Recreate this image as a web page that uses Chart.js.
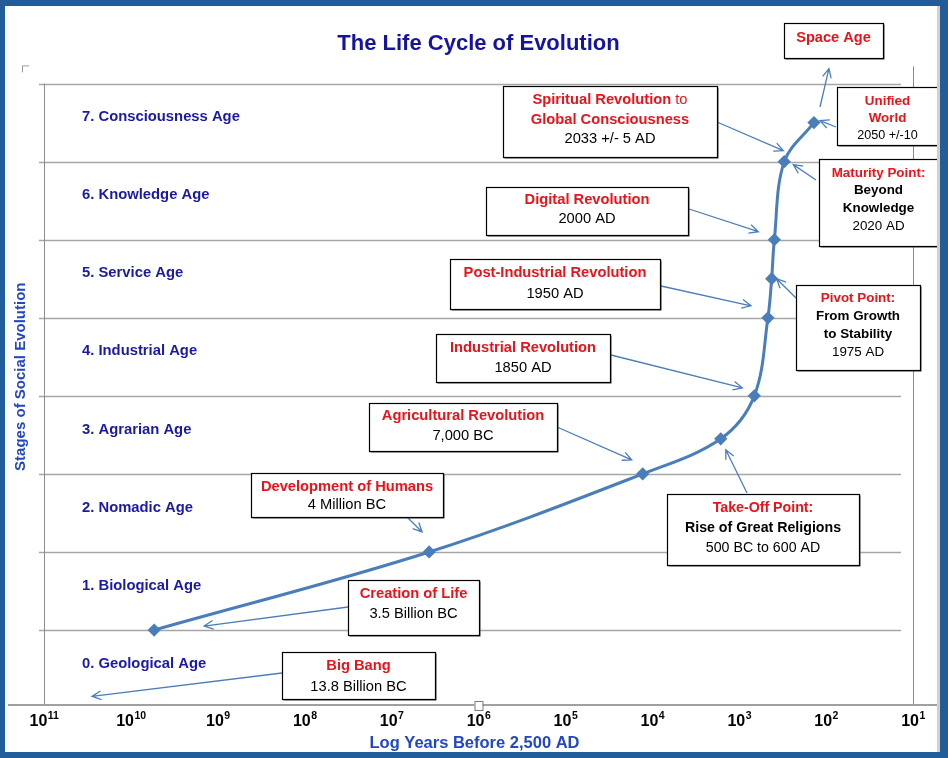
<!DOCTYPE html>
<html>
<head>
<meta charset="utf-8">
<title>The Life Cycle of Evolution</title>
<script src="https://cdn.jsdelivr.net/npm/chart.js@4.4.0/dist/chart.umd.min.js"></script>
<style>
  html, body { margin: 0; padding: 0; background: #fff; }
  #wrap { position: relative; width: 948px; height: 758px; overflow: hidden; }
  #frame {
    position: absolute; left: 0; top: 0; width: 948px; height: 758px;
    box-sizing: border-box; border-style: solid; border-color: #215d9b;
    border-width: 6px 8px 6px 5px; box-shadow: inset -3px 0 0 #d0d0d0;
    pointer-events: none;
  }
</style>
</head>
<body>
<div id="wrap">
  <canvas id="evolutionChart" width="948" height="758"></canvas>
  <div id="frame"></div>
</div>
<script>
// stages of social evolution (bands between grid lines)
const stageNames = [
  '0. Geological Age', '1. Biological Age', '2. Nomadic Age', '3. Agrarian Age',
  '4. Industrial Age', '5. Service Age', '6. Knowledge Age', '7. Consciousness Age'
];
const gridStages = [1, 2, 3, 4, 5, 6, 7, 8];

// curve points: years before 2,500 AD (log axis) and stage level
const yearsBefore2500 = [5.4e9, 3.7e6, 1.29e4, 1630, 670, 467, 423, 394, 303, 138];
const stageLevel = [1, 2, 3, 3.45, 4, 5, 5.5, 6, 7, 7.5];

// x axis ticks: base and exponent (drawn as 10 with a raised exponent)
const tickExponents = [11, 10, 9, 8, 7, 6, 5, 4, 3, 2, 1];
const tickBase = '10';

const xTitle = 'Log Years Before 2,500 AD';
const yTitle = 'Stages of Social Evolution';

const LINE_BLUE = '#4a7ebb';
const RED = '#e8141c';
const AXIS_BLUE = '#2346c4';
const FONT = '"Liberation Sans", Arial, sans-serif';

const STYLE = {
  r:  { color: RED, weight: 'bold' },
  rn: { color: RED, weight: 'normal' },
  kb: { color: '#000', weight: 'bold' },
  k:  { color: '#000', weight: 'normal' }
};

// text boxes with arrows (arrow tip given relative to a curve point)
const notes = [
  { box: [784, 23, 99, 35], y0: 38, lead: 18, size: 14.6,
    lines: [[['Space Age', 'r']]],
    arrow: { from: [820, 107], at: 9, dx: 15, dy: -54 } },
  { box: [503, 86, 214, 71], y0: 100, lead: 19.5, size: 14.7,
    lines: [[['Spiritual Revolution', 'r'], [' to', 'rn']], [['Global Consciousness', 'r']], [['2033 +/- 5 AD', 'k']]],
    arrow: { from: [717, 122], at: 8, dx: -1, dy: -11 } },
  { box: [837, 87, 101, 58], y0: 101, lead: 17.5, size: 13.4,
    lines: [[['Unified', 'r']], [['World', 'r']], [['2050 +/-10', 'k', 12.6]]],
    arrow: { from: [836, 127], at: 9, dx: 6, dy: -2 } },
  { box: [819, 159, 119, 87], y0: 173, lead: 17.7, size: 13.4,
    lines: [[['Maturity Point:', 'r']], [['Beyond', 'kb']], [['Knowledge', 'kb']], [['2020 AD', 'k']]],
    arrow: { from: [816, 180], at: 8, dx: 9, dy: 3 } },
  { box: [486, 187, 202, 48], y0: 200, lead: 19, size: 14.7,
    lines: [[['Digital Revolution', 'r']], [['2000 AD', 'k']]],
    arrow: { from: [689, 209], at: 7, dx: -16, dy: -8 } },
  { box: [450, 259, 210, 50], y0: 273, lead: 20.5, size: 14.7,
    lines: [[['Post-Industrial Revolution', 'r']], [['1950 AD', 'k']]],
    arrow: { from: [661, 286], at: 5, dx: -17, dy: -12 } },
  { box: [796, 285, 124, 85], y0: 298, lead: 18, size: 13.4,
    lines: [[['Pivot Point:', 'r']], [['From Growth', 'kb']], [['to Stability', 'kb']], [['1975 AD', 'k']]],
    arrow: { from: [796, 298], at: 6, dx: 5, dy: 0 } },
  { box: [436, 334, 174, 48], y0: 348, lead: 20, size: 14.7,
    lines: [[['Industrial Revolution', 'r']], [['1850 AD', 'k']]],
    arrow: { from: [611, 355], at: 4, dx: -12, dy: -8 } },
  { box: [369, 403, 188, 48], y0: 416, lead: 20, size: 14.7,
    lines: [[['Agricultural Revolution', 'r']], [['7,000 BC', 'k']]],
    arrow: { from: [557, 427], at: 2, dx: -11, dy: -14 } },
  { box: [667, 494, 192, 71], y0: 508, lead: 20, size: 14.2,
    lines: [[['Take-Off Point:', 'r']], [['Rise of Great Religions', 'kb']], [['500 BC to 600 AD', 'k']]],
    arrow: { from: [747, 493], at: 3, dx: 5, dy: 11 } },
  { box: [251, 473, 192, 44], y0: 487, lead: 17.5, size: 14.7,
    lines: [[['Development of Humans', 'r']], [['4 Million BC', 'k']]],
    arrow: { from: [407, 517], at: 1, dx: -7, dy: -20 } },
  { box: [348, 580, 131, 55], y0: 594, lead: 20, size: 14.7,
    lines: [[['Creation of Life', 'r']], [['3.5 Billion BC', 'k']]],
    arrow: { from: [348, 607], at: 0, dx: 50, dy: -4 } },
  { box: [282, 652, 153, 47], y0: 666, lead: 21, size: 14.7,
    lines: [[['Big Bang', 'r']], [['13.8 Billion BC', 'k']]],
    arrow: { from: [282, 673], value: [2.8e10, 0.15] } }
];

function font(weight, size) {
  return `${weight} ${size}px ${FONT}`;
}

function drawArrow(ctx, x1, y1, x2, y2) {
  const ang = Math.atan2(y2 - y1, x2 - x1);
  const len = 10, spread = 0.45;
  ctx.beginPath();
  ctx.moveTo(x1, y1);
  ctx.lineTo(x2, y2);
  ctx.moveTo(x2 - len * Math.cos(ang - spread), y2 - len * Math.sin(ang - spread));
  ctx.lineTo(x2, y2);
  ctx.lineTo(x2 - len * Math.cos(ang + spread), y2 - len * Math.sin(ang + spread));
  ctx.stroke();
}

const decor = {
  id: 'decor',
  beforeDatasetsDraw(chart) {
    const { ctx, chartArea: area, scales: { x, y } } = chart;
    ctx.save();
    // horizontal stage lines
    ctx.strokeStyle = '#a6a6a6';
    ctx.lineWidth = 1.5;
    gridStages.forEach(v => {
      const py = Math.round(y.getPixelForValue(v)) + 0.5;
      ctx.beginPath();
      ctx.moveTo(area.left - 5, py);
      ctx.lineTo(area.right - 12, py);
      ctx.stroke();
    });
    // left and right vertical lines
    ctx.lineWidth = 1;
    ctx.strokeStyle = '#8c8c8c';
    ctx.beginPath();
    ctx.moveTo(Math.round(area.left) + 0.5, y.getPixelForValue(8));
    ctx.lineTo(Math.round(area.left) + 0.5, area.bottom);
    ctx.moveTo(Math.round(area.right) + 0.5, area.top);
    ctx.lineTo(Math.round(area.right) + 0.5, area.bottom);
    ctx.stroke();
    // bottom axis line across the whole frame
    ctx.strokeStyle = '#a0a0a0';
    ctx.lineWidth = 2;
    ctx.beginPath();
    ctx.moveTo(8, area.bottom);
    ctx.lineTo(940, area.bottom);
    ctx.stroke();
    // stage names
    ctx.fillStyle = '#1a1aa6';
    ctx.font = font('bold', 14.8);
    ctx.textAlign = 'left';
    ctx.textBaseline = 'middle';
    stageNames.forEach((name, i) => {
      ctx.fillText(name, area.left + 38, y.getPixelForValue(i + 0.57));
    });
    // x tick labels: 10 with raised exponent
    ctx.fillStyle = '#000';
    tickExponents.forEach(e => {
      const px = x.getPixelForValue(Math.pow(10, e));
      const sup = String(e);
      ctx.font = font('bold', 16);
      const wb = ctx.measureText(tickBase).width;
      ctx.font = font('bold', 10.5);
      const ws = ctx.measureText(sup).width;
      const left = px - (wb + ws) / 2;
      ctx.font = font('bold', 16);
      ctx.fillText(tickBase, left, area.bottom + 17);
      ctx.font = font('bold', 10.5);
      ctx.fillText(sup, left + wb + 0.5, area.bottom + 11);
    });
    // axis titles
    ctx.fillStyle = AXIS_BLUE;
    ctx.textAlign = 'center';
    ctx.font = font('bold', 16.5);
    ctx.fillText(xTitle, (area.left + area.right) / 2 - 4, area.bottom + 38);
    ctx.save();
    ctx.translate(area.left - 23, (area.top + area.bottom) / 2 - 9);
    ctx.rotate(-Math.PI / 2);
    ctx.font = font('bold', 15);
    ctx.fillText(yTitle, 0, 0);
    ctx.restore();
    // small corner mark
    ctx.strokeStyle = '#9a9a9a';
    ctx.lineWidth = 1;
    ctx.beginPath();
    ctx.moveTo(area.left - 21.5, area.top + 6);
    ctx.lineTo(area.left - 21.5, area.top - 0.5);
    ctx.lineTo(area.left - 15, area.top - 0.5);
    ctx.stroke();
    ctx.restore();
  },
  afterDatasetsDraw(chart) {
    const { ctx, chartArea: area, scales: { x, y } } = chart;
    const meta = chart.getDatasetMeta(0);
    ctx.save();
    notes.forEach(n => {
      const [bx, by, bw, bh] = n.box;
      // arrow
      const a = n.arrow;
      let tx, ty;
      if (a.value) {
        tx = x.getPixelForValue(a.value[0]);
        ty = y.getPixelForValue(a.value[1]);
      } else {
        const p = meta.data[a.at];
        tx = p.x + a.dx;
        ty = p.y + a.dy;
      }
      ctx.strokeStyle = LINE_BLUE;
      ctx.lineWidth = 1.3;
      drawArrow(ctx, a.from[0], a.from[1], tx, ty);
      // box
      ctx.fillStyle = '#444';
      ctx.fillRect(bx + 1.5, by + 1.5, bw, bh);
      ctx.fillStyle = '#fff';
      ctx.fillRect(bx, by, bw, bh);
      ctx.strokeStyle = '#000';
      ctx.lineWidth = 1.2;
      ctx.strokeRect(bx + 0.5, by + 0.5, bw, bh);
      // text lines
      ctx.textBaseline = 'middle';
      ctx.textAlign = 'left';
      n.lines.forEach((segs, i) => {
        const widths = segs.map(([t, s, sz]) => {
          ctx.font = font(STYLE[s].weight, sz || n.size);
          return ctx.measureText(t).width;
        });
        const total = widths.reduce((acc, w) => acc + w, 0);
        let cx = bx + bw / 2 - total / 2;
        const cy = n.y0 + i * n.lead;
        segs.forEach(([t, s, sz], j) => {
          ctx.font = font(STYLE[s].weight, sz || n.size);
          ctx.fillStyle = STYLE[s].color;
          ctx.fillText(t, cx, cy);
          cx += widths[j];
        });
      });
    });
    // selection handle on the axis line
    const hx = (area.left + area.right) / 2;
    ctx.fillStyle = '#fff';
    ctx.strokeStyle = '#7a7a7a';
    ctx.lineWidth = 1;
    ctx.fillRect(hx - 4, area.bottom - 4, 8, 9);
    ctx.strokeRect(hx - 3.5, area.bottom - 3.5, 8, 9);
    ctx.restore();
  }
};

const ctx = document.getElementById('evolutionChart').getContext('2d');
new Chart(ctx, {
  type: 'line',
  data: {
    datasets: [{
      label: 'Life Cycle of Evolution',
      data: yearsBefore2500.map((v, i) => ({ x: v, y: stageLevel[i] })),
      borderColor: LINE_BLUE,
      backgroundColor: LINE_BLUE,
      borderWidth: 3,
      tension: 0.35,
      pointStyle: 'rectRot',
      pointRadius: 4.5,
      pointBackgroundColor: LINE_BLUE,
      pointBorderColor: LINE_BLUE,
      fill: false
    }]
  },
  options: {
    responsive: false,
    animation: false,
    devicePixelRatio: 1,
    layout: { padding: { left: 44, right: 35, top: 0, bottom: 53 } },
    plugins: {
      legend: { display: false },
      tooltip: { enabled: false },
      title: {
        display: true,
        text: 'The Life Cycle of Evolution',
        color: '#1414a0',
        font: { family: FONT, size: 22, weight: 'bold' },
        padding: { top: 31, bottom: 9 }
      }
    },
    scales: {
      x: {
        type: 'logarithmic',
        display: false,
        reverse: true,
        min: 10,
        max: 1e11
      },
      y: {
        type: 'linear',
        display: false,
        min: 0.04,
        max: 8.22
      }
    }
  },
  plugins: [decor]
});
</script>
</body>
</html>
